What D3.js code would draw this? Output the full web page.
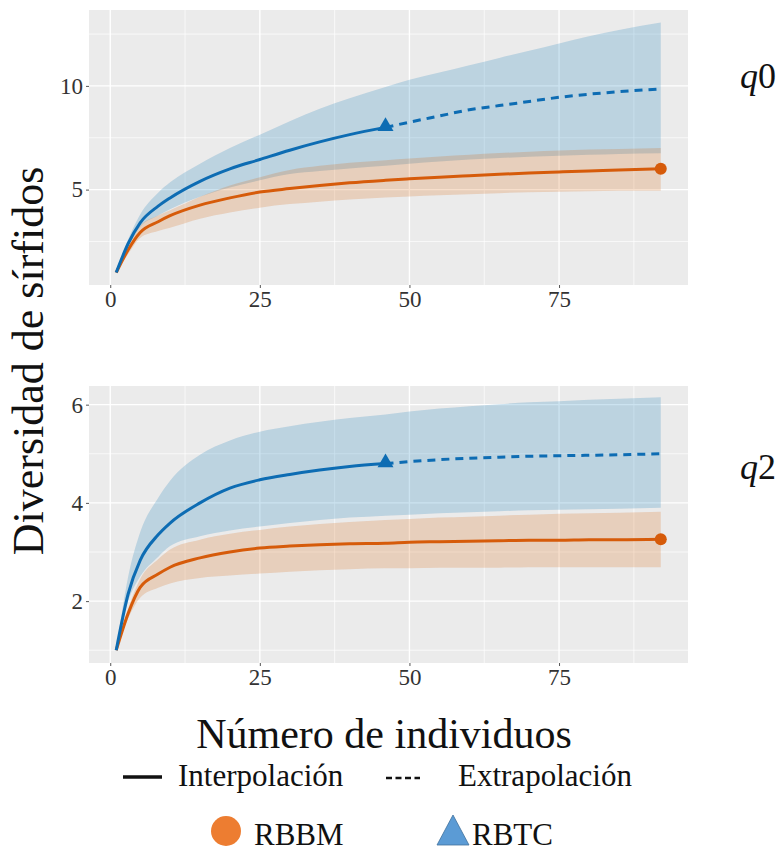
<!DOCTYPE html>
<html>
<head>
<meta charset="utf-8">
<script src="https://cdn.jsdelivr.net/npm/d3@7/dist/d3.min.js"></script>
<style>
  body { margin: 0; background: #fff; }
  svg text { font-family: "Liberation Serif", "Times New Roman", serif; }
</style>
</head>
<body>
<div id="chart"></div>
<script>
// sample sizes (number of individuals)
const xRBTC = [1, 3, 5, 8, 10, 15, 20, 25, 30, 35, 40, 46];
const xRBTCext = [46, 50, 55, 60, 65, 70, 75, 80, 85, 92];
const xRBBM = [1, 3, 5, 8, 10, 15, 20, 25, 30, 35, 40, 46, 50, 55, 60, 65, 70, 75, 80, 85, 92];

// q0
const q0RBTC   = [1.0, 2.4, 3.4, 4.2, 4.6, 5.4, 6.0, 6.45, 6.9, 7.3, 7.65, 8.0];
const q0RBTCLo = [1.0, 2.3, 3.2, 3.75, 4.05, 4.65, 5.1, 5.45, 5.75, 5.9, 6.02, 6.15];
const q0RBTCHi = [1.0, 2.6, 3.8, 4.85, 5.35, 6.25, 7.0, 7.65, 8.3, 8.9, 9.4, 9.95];
const q0RBTCext   = [8.0, 8.25, 8.55, 8.85, 9.05, 9.25, 9.45, 9.6, 9.72, 9.85];
const q0RBTCextLo = [6.15, 6.25, 6.35, 6.45, 6.52, 6.58, 6.63, 6.68, 6.72, 6.75];
const q0RBTCextHi = [9.95, 10.3, 10.65, 11.0, 11.35, 11.7, 12.05, 12.4, 12.7, 13.06];
const q0RBBM   = [1.0, 2.1, 2.93, 3.45, 3.74, 4.25, 4.6, 4.88, 5.05, 5.2, 5.33, 5.45, 5.52, 5.6, 5.67, 5.74, 5.8, 5.85, 5.9, 5.94, 6.0];
const q0RBBMLo = [1.0, 1.9, 2.67, 3.0, 3.16, 3.6, 3.9, 4.13, 4.3, 4.42, 4.52, 4.62, 4.67, 4.73, 4.78, 4.83, 4.87, 4.9, 4.92, 4.94, 4.95];
const q0RBBMHi = [1.0, 2.3, 3.25, 3.75, 4.0, 4.65, 5.2, 5.6, 5.95, 6.15, 6.3, 6.42, 6.5, 6.6, 6.68, 6.76, 6.83, 6.88, 6.93, 6.96, 7.0];

// q2
const q2RBTC   = [1.0, 2.15, 2.83, 3.35, 3.59, 4.0, 4.3, 4.47, 4.58, 4.67, 4.74, 4.8];
const q2RBTCLo = [1.0, 2.0, 2.5, 2.9, 3.12, 3.32, 3.44, 3.52, 3.59, 3.65, 3.7, 3.74];
const q2RBTCHi = [1.0, 2.5, 3.4, 4.1, 4.45, 4.98, 5.27, 5.45, 5.56, 5.65, 5.73, 5.8];
const q2RBTCext   = [4.8, 4.84, 4.88, 4.91, 4.93, 4.95, 4.96, 4.97, 4.98, 5.0];
const q2RBTCextLo = [3.74, 3.76, 3.79, 3.81, 3.83, 3.85, 3.86, 3.87, 3.88, 3.9];
const q2RBTCextHi = [5.8, 5.86, 5.92, 5.97, 6.01, 6.05, 6.07, 6.1, 6.12, 6.15];
const q2RBBM   = [1.0, 1.75, 2.28, 2.55, 2.69, 2.88, 3.0, 3.08, 3.12, 3.15, 3.17, 3.18, 3.2, 3.21, 3.22, 3.23, 3.24, 3.24, 3.25, 3.25, 3.26];
const q2RBBMLo = [1.0, 1.65, 2.07, 2.27, 2.36, 2.47, 2.52, 2.56, 2.6, 2.63, 2.65, 2.67, 2.67, 2.68, 2.68, 2.68, 2.69, 2.69, 2.69, 2.69, 2.69];
const q2RBBMHi = [1.0, 1.85, 2.45, 2.85, 3.05, 3.25, 3.37, 3.45, 3.52, 3.57, 3.61, 3.65, 3.67, 3.7, 3.72, 3.74, 3.76, 3.78, 3.79, 3.8, 3.82];

const xTicks = [0, 25, 50, 75];
const q0Ticks = [5, 10];
const q2Ticks = [2, 4, 6];

const blue = "#0d6cb3";
const orange = "#d65b0a";
const serif = "'Liberation Serif', 'Times New Roman', serif";

const width = 783, height = 851;

const svg = d3.select("#chart")
    .append("svg")
    .attr("width", width)
    .attr("height", height)
    .attr("font-family", serif);

const xScale = d3.scaleLinear()
    .domain([-3.55, 96.55])
    .range([89, 688]);

function rows(xs, mid, lo, hi) {
    return xs.map((x, i) => ({ x: x, y: mid[i], lo: lo[i], hi: hi[i] }));
}

const panels = [
    {
        label: "0", top: 10, bottom: 285, domain: [0.4, 13.66], ticks: q0Ticks, minor: [2.5, 7.5, 12.5],
        labelY: 88,
        rbtc: rows(xRBTC, q0RBTC, q0RBTCLo, q0RBTCHi),
        rbtcExt: rows(xRBTCext, q0RBTCext, q0RBTCextLo, q0RBTCextHi),
        rbbm: rows(xRBBM, q0RBBM, q0RBBMLo, q0RBBMHi)
    },
    {
        label: "2", top: 386, bottom: 663, domain: [0.74, 6.38], ticks: q2Ticks, minor: [1, 3, 5],
        labelY: 479,
        rbtc: rows(xRBTC, q2RBTC, q2RBTCLo, q2RBTCHi),
        rbtcExt: rows(xRBTCext, q2RBTCext, q2RBTCextLo, q2RBTCextHi),
        rbbm: rows(xRBBM, q2RBBM, q2RBBMLo, q2RBBMHi)
    }
];

panels.forEach(p => {
    const yScale = d3.scaleLinear().domain(p.domain).range([p.bottom, p.top]);
    const g = svg.append("g");

    g.append("rect")
        .attr("x", xScale.range()[0])
        .attr("y", p.top)
        .attr("width", xScale.range()[1] - xScale.range()[0])
        .attr("height", p.bottom - p.top)
        .attr("fill", "#ebebeb");

    // grid
    const minorX = [12.5, 37.5, 62.5, 87.5];
    g.selectAll(".minx").data(minorX).enter().append("line")
        .attr("x1", d => xScale(d)).attr("x2", d => xScale(d))
        .attr("y1", p.top).attr("y2", p.bottom)
        .attr("stroke", "#fff").attr("stroke-width", 0.7);
    g.selectAll(".miny").data(p.minor).enter().append("line")
        .attr("x1", xScale.range()[0]).attr("x2", xScale.range()[1])
        .attr("y1", d => yScale(d)).attr("y2", d => yScale(d))
        .attr("stroke", "#fff").attr("stroke-width", 0.7);
    g.selectAll(".majx").data(xTicks).enter().append("line")
        .attr("x1", d => xScale(d)).attr("x2", d => xScale(d))
        .attr("y1", p.top).attr("y2", p.bottom)
        .attr("stroke", "#fff").attr("stroke-width", 1.4);
    g.selectAll(".majy").data(p.ticks).enter().append("line")
        .attr("x1", xScale.range()[0]).attr("x2", xScale.range()[1])
        .attr("y1", d => yScale(d)).attr("y2", d => yScale(d))
        .attr("stroke", "#fff").attr("stroke-width", 1.4);

    const band = d3.area()
        .x(d => xScale(d.x))
        .y0(d => yScale(d.lo))
        .y1(d => yScale(d.hi))
        .curve(d3.curveMonotoneX);
    const line = d3.line()
        .x(d => xScale(d.x))
        .y(d => yScale(d.y))
        .curve(d3.curveMonotoneX);

    const blueAll = p.rbtc.concat(p.rbtcExt.slice(1));

    g.append("path").attr("d", band(blueAll))
        .attr("fill", "#0072b2").attr("fill-opacity", 0.2);
    g.append("path").attr("d", band(p.rbbm))
        .attr("fill", "#d55e00").attr("fill-opacity", 0.2);

    g.append("path").attr("d", line(p.rbbm))
        .attr("fill", "none").attr("stroke", orange).attr("stroke-width", 3);
    g.append("path").attr("d", line(p.rbtc))
        .attr("fill", "none").attr("stroke", blue).attr("stroke-width", 3);
    g.append("path").attr("d", line(p.rbtcExt))
        .attr("fill", "none").attr("stroke", blue).attr("stroke-width", 3)
        .attr("stroke-dasharray", "8,6");

    const obsBlue = p.rbtc[p.rbtc.length - 1];
    const obsOrange = p.rbbm[p.rbbm.length - 1];
    g.append("path")
        .attr("d", d3.symbol(d3.symbolTriangle, 110)())
        .attr("transform", `translate(${xScale(obsBlue.x)}, ${yScale(obsBlue.y) - 1})`)
        .attr("fill", blue);
    g.append("circle")
        .attr("cx", xScale(obsOrange.x))
        .attr("cy", yScale(obsOrange.y))
        .attr("r", 6)
        .attr("fill", orange);

    // axes
    const xAxis = g.append("g")
        .attr("transform", "translate(0, " + p.bottom + ")")
        .call(d3.axisBottom(xScale).tickValues(xTicks).tickSize(3).tickPadding(3).tickFormat(d3.format("d")));
    const yAxis = g.append("g")
        .attr("transform", "translate(" + xScale.range()[0] + ", 0)")
        .call(d3.axisLeft(yScale).tickValues(p.ticks).tickSize(3).tickPadding(3).tickFormat(d3.format("d")));
    [xAxis, yAxis].forEach(a => {
        a.attr("font-family", serif).attr("font-size", 23);
        a.select(".domain").remove();
        a.selectAll(".tick line").attr("stroke", "#555");
        a.selectAll(".tick text").attr("fill", "#333");
    });

    // facet label
    const lab = svg.append("text")
        .attr("x", 740)
        .attr("y", p.labelY)
        .attr("font-size", 36)
        .attr("fill", "#111");
    lab.append("tspan").attr("font-style", "italic").text("q");
    lab.append("tspan").text(p.label);
});

// axis titles
svg.append("text")
    .attr("transform", "translate(43, 361) rotate(-90)")
    .attr("text-anchor", "middle")
    .attr("font-size", 44)
    .attr("fill", "#111")
    .text("Diversidad de sírfidos");

svg.append("text")
    .attr("x", 384)
    .attr("y", 748)
    .attr("text-anchor", "middle")
    .attr("font-size", 42)
    .attr("fill", "#111")
    .text("Número de individuos");

// legend: line types
svg.append("line")
    .attr("x1", 123).attr("x2", 162).attr("y1", 777).attr("y2", 777)
    .attr("stroke", "#111").attr("stroke-width", 3.5);
svg.append("text")
    .attr("x", 178).attr("y", 786)
    .attr("font-size", 31).attr("fill", "#111")
    .text("Interpolación");
svg.append("line")
    .attr("x1", 386).attr("x2", 420).attr("y1", 778).attr("y2", 778)
    .attr("stroke", "#111").attr("stroke-width", 2.5)
    .attr("stroke-dasharray", "6,3.5");
svg.append("text")
    .attr("x", 458).attr("y", 786)
    .attr("font-size", 31).attr("fill", "#111")
    .text("Extrapolación");

// legend: sites
svg.append("circle")
    .attr("cx", 226).attr("cy", 831).attr("r", 15)
    .attr("fill", "#ed7d31");
svg.append("text")
    .attr("x", 254).attr("y", 845)
    .attr("font-size", 31).attr("fill", "#111")
    .text("RBBM");
svg.append("path")
    .attr("d", "M0,-16L16,14L-16,14Z")
    .attr("transform", "translate(453, 831)")
    .attr("fill", "#5b9bd5")
    .attr("stroke", "#41719c")
    .attr("stroke-width", 0.8);
svg.append("text")
    .attr("x", 472).attr("y", 845)
    .attr("font-size", 31).attr("fill", "#111")
    .text("RBTC");
</script>
</body>
</html>
